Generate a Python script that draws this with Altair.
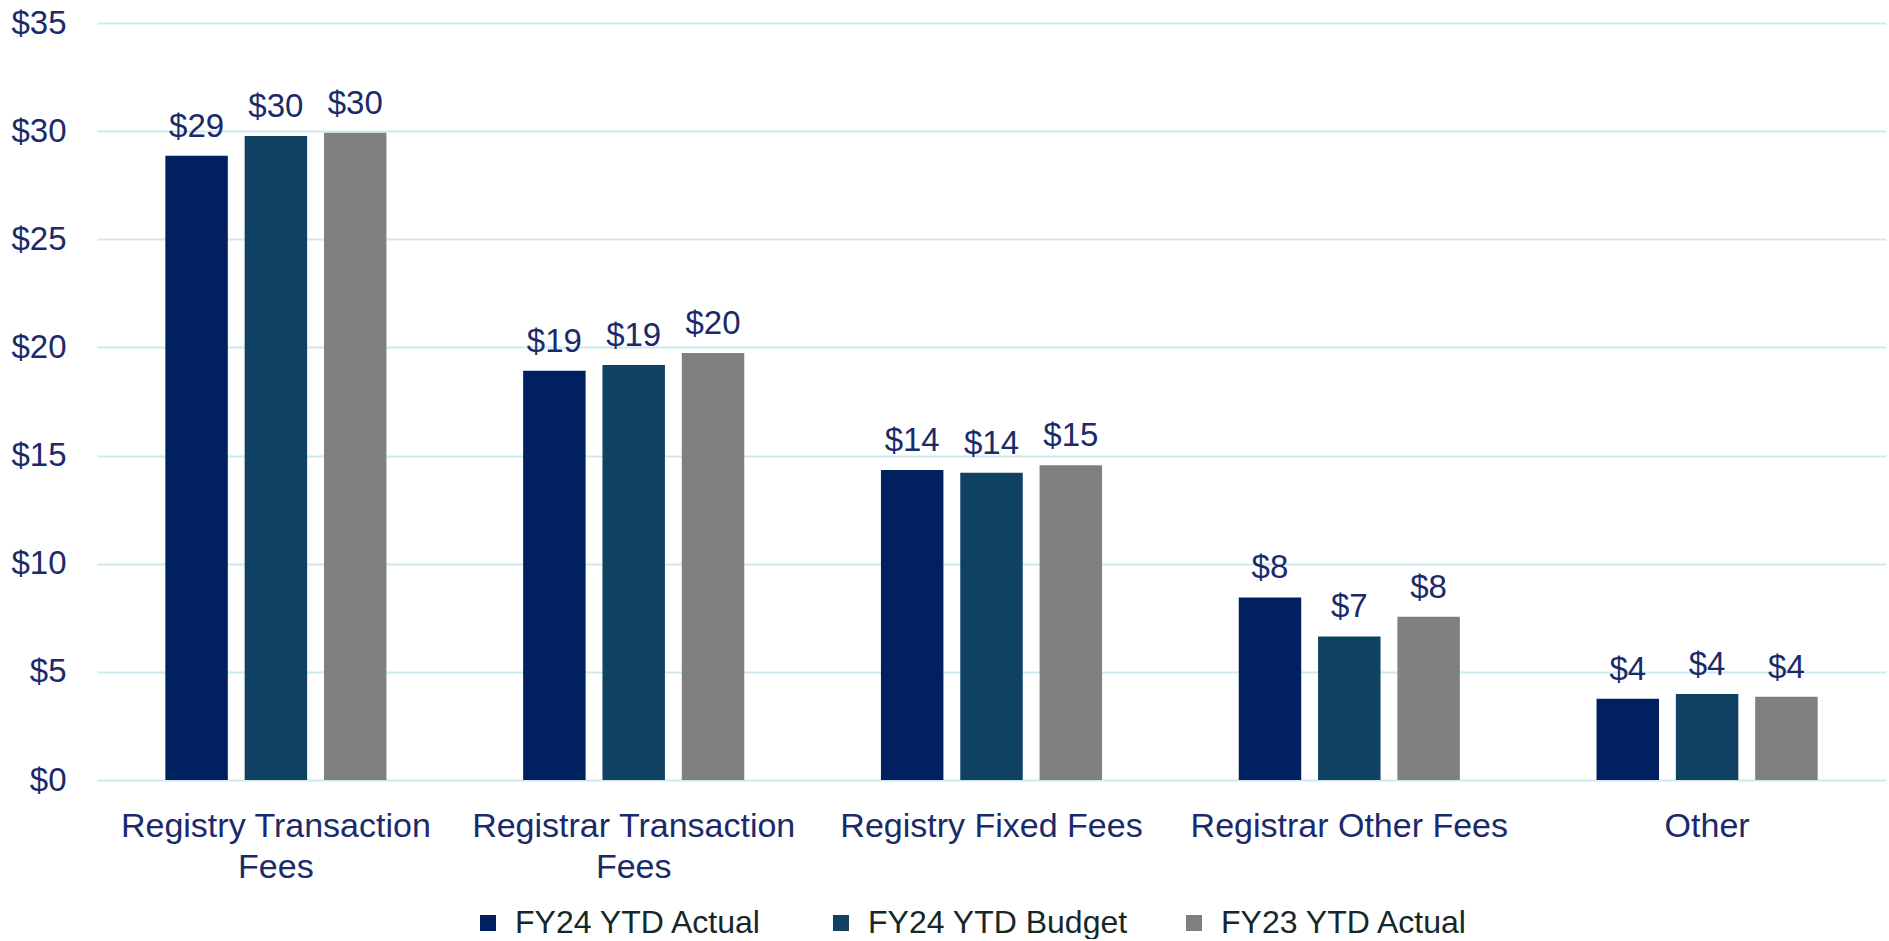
import altair as alt
import pandas as pd

categories = [
    "Registry Transaction\nFees",
    "Registrar Transaction\nFees",
    "Registry Fixed Fees",
    "Registrar Other Fees",
    "Other",
]
series = ["FY24 YTD Actual", "FY24 YTD Budget", "FY23 YTD Actual"]
fy24_actual = [28.86, 18.92, 14.33, 8.44, 3.76]
fy24_budget = [29.77, 19.19, 14.21, 6.64, 3.98]
fy23_actual = [29.93, 19.74, 14.55, 7.55, 3.85]
y_ticks = [0, 5, 10, 15, 20, 25, 30, 35]

colors = ["#002060", "#0F4262", "#808080"]
NAVY = "#1A2A6A"
LEGEND_TXT = "#152729"
GRID = "#CDEAF1"
FONT = "Liberation Sans"

rows = []
for vals, s in zip([fy24_actual, fy24_budget, fy23_actual], series):
    for c, v in zip(categories, vals):
        rows.append({"category": c, "series": s, "value": v})
df = pd.DataFrame(rows)

base = alt.Chart(df).encode(
    x=alt.X(
        "category:N",
        sort=categories,
        scale=alt.Scale(paddingInner=0.382, paddingOuter=0.191),
        axis=alt.Axis(
            title=None,
            labelExpr="split(datum.value, '\\n')",
            labelAngle=0,
            domain=False,
            ticks=False,
            grid=False,
            labelPadding=29,
            labelLineHeight=41,
            labelBaseline="top",
            labelFontSize=34,
            labelFont=FONT,
            labelColor=NAVY,
            labelLimit=600,
        ),
    ),
    xOffset=alt.XOffset(
        "series:N", sort=series, scale=alt.Scale(paddingInner=0.2125, paddingOuter=0)
    ),
    y=alt.Y(
        "value:Q",
        scale=alt.Scale(domain=[0, 35], nice=False, zero=True),
        axis=alt.Axis(
            title=None,
            values=y_ticks,
            labelExpr="'$' + datum.value",
            grid=True,
            gridColor=GRID,
            gridWidth=2,
            domain=False,
            ticks=False,
            labelPadding=31,
            labelFontSize=33,
            labelFont=FONT,
            labelColor=NAVY,
            minExtent=97,
            maxExtent=97,
        ),
    ),
)

bars = base.mark_bar().encode(
    color=alt.Color(
        "series:N",
        sort=series,
        scale=alt.Scale(domain=series, range=colors),
        legend=alt.Legend(
            orient="none",
            legendX=375,
            legendY=884,
            direction="horizontal",
            title=None,
            symbolType="square",
            symbolSize=256,
            symbolStrokeWidth=0,
            labelFontSize=32,
            labelFont=FONT,
            labelColor=LEGEND_TXT,
            labelOffset=11,
            labelLimit=600,
            columnPadding=50,
            gridAlign="all",
            padding=0,
        ),
    )
)

labels = base.mark_text(
    dy=-19, baseline="alphabetic", align="center", fontSize=33, font=FONT, color=NAVY
).encode(text=alt.Text("value:Q", format="$.0f"))

chart = (
    alt.layer(bars, labels)
    .properties(
        width=1789,
        height=757,
        padding={"left": 0, "top": 7, "right": 0, "bottom": 0},
    )
    .configure_view(stroke=None)
)

chart.save("out.html", embed_options={"renderer": "svg", "actions": False})
